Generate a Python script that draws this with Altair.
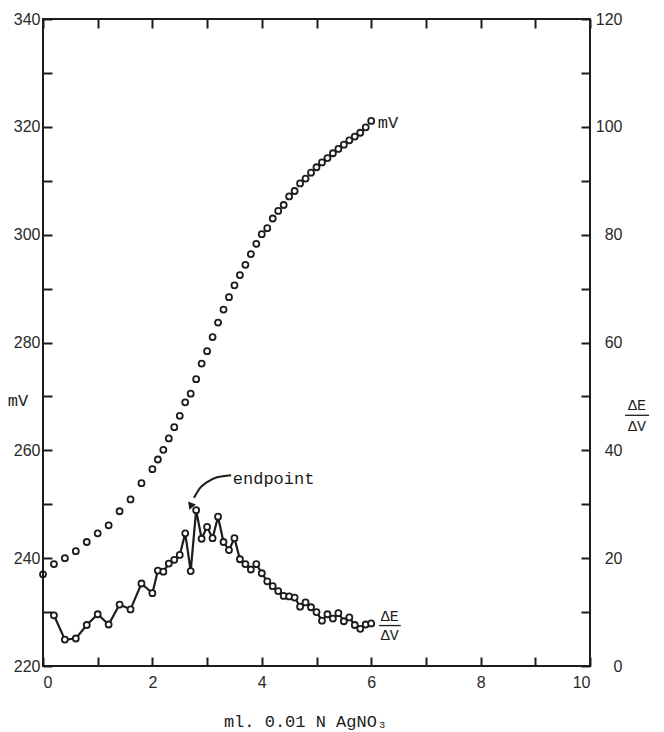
import altair as alt
import pandas as pd

# ---- data ----
vol_mv = [0.0, 0.2, 0.4, 0.6, 0.8, 1.0, 1.2, 1.4, 1.6, 1.8, 2.0,
          2.1, 2.2, 2.3, 2.4, 2.5, 2.6, 2.7, 2.8, 2.9, 3.0,
          3.1, 3.2, 3.3, 3.4, 3.5, 3.6, 3.7, 3.8, 3.9, 4.0,
          4.1, 4.2, 4.3, 4.4, 4.5, 4.6, 4.7, 4.8, 4.9, 5.0,
          5.1, 5.2, 5.3, 5.4, 5.5, 5.6, 5.7, 5.8, 5.9, 6.0]
mv = [237.0, 238.9, 240.0, 241.3, 243.0, 244.6, 246.1, 248.7, 250.9, 253.9, 256.5,
      258.3, 260.1, 262.2, 264.3, 266.4, 268.9, 270.5, 273.2, 276.1, 278.4,
      281.0, 283.7, 286.1, 288.4, 290.6, 292.5, 294.4, 296.4, 298.3, 300.1,
      301.2, 303.0, 304.4, 305.5, 307.1, 308.1, 309.5, 310.4, 311.5, 312.5,
      313.4, 314.2, 315.1, 315.9, 316.7, 317.5, 318.2, 318.9, 319.9, 321.1]

vol_d = [0.2, 0.4, 0.6, 0.8, 1.0, 1.2, 1.4, 1.6, 1.8, 2.0,
         2.1, 2.2, 2.3, 2.4, 2.5, 2.6, 2.7, 2.8, 2.9, 3.0,
         3.1, 3.2, 3.3, 3.4, 3.5, 3.6, 3.7, 3.8, 3.9, 4.0,
         4.1, 4.2, 4.3, 4.4, 4.5, 4.6, 4.7, 4.8, 4.9, 5.0,
         5.1, 5.2, 5.3, 5.4, 5.5, 5.6, 5.7, 5.8, 5.9, 6.0]
dEdV = [9.4, 4.9, 5.1, 7.6, 9.6, 7.7, 11.4, 10.5, 15.3, 13.5,
        17.7, 17.5, 19.0, 19.7, 20.6, 24.6, 17.6, 28.9, 23.6, 25.8,
        23.7, 27.7, 23.0, 21.5, 23.7, 19.8, 18.9, 17.9, 18.9, 17.2,
        15.7, 14.8, 13.9, 13.0, 12.9, 12.7, 11.0, 11.8, 10.9, 10.0,
        8.4, 9.6, 8.8, 9.8, 8.3, 9.0, 7.6, 6.9, 7.7, 7.9]

x_ticks = list(range(0, 11))
mv_ticks = list(range(220, 341, 10))
d_ticks = list(range(0, 121, 10))

# annotations (in ml / dE-dV units)
lbl_text = ["endpoint", "mV"]
lbl_x = [3.47, 6.12]
lbl_y = [34.6, 100.7]

frac_text = ["ΔE", "ΔV", "ΔE", "ΔV"]
frac_x = [6.34, 6.34, 10.86, 10.86]
frac_y = [9.3, 5.7, 48.4, 44.6]

bar_x = [6.14, 10.64]
bar_x2 = [6.54, 11.08]
bar_y = [7.5, 46.5]

arrow_x = [3.44, 3.18, 3.0, 2.87, 2.76]
arrow_y = [35.4, 35.0, 34.1, 33.0, 31.2]
head_x = [2.70]
head_y = [29.6]

INK = "#1c1c1c"
W, H = 547, 647

df_mv = pd.DataFrame({"vol": vol_mv, "mv": mv})
df_d = pd.DataFrame({"vol": vol_d, "d": dEdV})
df_lbl = pd.DataFrame({"t": lbl_text, "x": lbl_x, "y": lbl_y})
df_frac = pd.DataFrame({"t": frac_text, "x": frac_x, "y": frac_y})
df_bar = pd.DataFrame({"x": bar_x, "x2": bar_x2, "y": bar_y})
df_arrow = pd.DataFrame({"x": arrow_x, "y": arrow_y})
df_head = pd.DataFrame({"x": head_x, "y": head_y})

xscale = alt.Scale(domain=[0, 10], nice=False, zero=False)
mvscale = alt.Scale(domain=[220, 340], nice=False, zero=False)
dscale = alt.Scale(domain=[0, 120], nice=False, zero=False)

tick_common = dict(offset=-9, tickSize=9, tickWidth=2, tickColor=INK, domain=False,
                   grid=False, labelFont="Liberation Sans", labelFontSize=16,
                   labelColor="#2a2a2a")

x_bottom = alt.Axis(values=x_ticks, labelExpr="datum.value % 2 == 0 ? datum.label : ''",
                    labelPadding=8, title="ml. 0.01 N AgNO₃", titleFont="Liberation Mono",
                    titleFontSize=17, titleFontWeight="normal", titleColor=INK,
                    titleX=262, titleY=69, titleAlign="center", titleBaseline="alphabetic",
                    **tick_common)
x_top = alt.Axis(orient="top", values=x_ticks, labels=False, title=None,
                 offset=-9, tickSize=9, tickWidth=2, tickColor=INK, domain=False, grid=False)
y_left = alt.Axis(orient="left", values=mv_ticks,
                  labelExpr="datum.value % 20 == 0 ? datum.label : ''",
                  labelPadding=3, title="mV", titleAngle=0, titleFont="Liberation Mono",
                  titleFontSize=17, titleFontWeight="normal", titleColor=INK,
                  titleX=-34.5, titleY=381, titleAlign="center", titleBaseline="middle",
                  **tick_common)
y_right = alt.Axis(orient="right", values=d_ticks,
                   labelExpr="datum.value % 20 == 0 ? datum.label : ''",
                   labelAlign="right", labelPadding=32, title=None, **tick_common)

mv_layer = alt.Chart(df_mv).mark_point(shape="circle", filled=False, size=36,
                                       strokeWidth=1.8, color=INK, opacity=1).encode(
    x=alt.X("vol:Q", scale=xscale, axis=x_bottom),
    y=alt.Y("mv:Q", scale=mvscale, axis=y_left),
)

d_line = alt.Chart(df_d).mark_line(color=INK, strokeWidth=2.2).encode(
    x=alt.X("vol:Q", scale=xscale, axis=x_top),
    y=alt.Y("d:Q", scale=dscale, axis=y_right),
)
d_pts = alt.Chart(df_d).mark_point(shape="circle", filled=True, fill="white", size=36,
                                   stroke=INK, strokeWidth=1.8, opacity=1).encode(
    x=alt.X("vol:Q", scale=xscale, axis=None),
    y=alt.Y("d:Q", scale=dscale, axis=None),
)

lbl_layer = alt.Chart(df_lbl).mark_text(align="left", baseline="middle",
                                        font="Liberation Mono", fontSize=17, color=INK).encode(
    x=alt.X("x:Q", scale=xscale, axis=None),
    y=alt.Y("y:Q", scale=dscale, axis=None),
    text="t:N",
)
frac_layer = alt.Chart(df_frac).mark_text(align="center", baseline="middle",
                                          font="Liberation Mono", fontSize=15, color=INK).encode(
    x=alt.X("x:Q", scale=xscale, axis=None),
    y=alt.Y("y:Q", scale=dscale, axis=None),
    text="t:N",
)
bar_layer = alt.Chart(df_bar).mark_rule(color=INK, strokeWidth=1.3).encode(
    x=alt.X("x:Q", scale=xscale, axis=None),
    x2="x2:Q",
    y=alt.Y("y:Q", scale=dscale, axis=None),
)
arrow_layer = alt.Chart(df_arrow).mark_line(color=INK, strokeWidth=2, interpolate="monotone").encode(
    x=alt.X("x:Q", scale=xscale, axis=None),
    y=alt.Y("y:Q", scale=dscale, axis=None),
)
head_layer = alt.Chart(df_head).mark_point(shape="triangle-down", filled=True, size=70,
                                           color=INK, opacity=1, angle=21).encode(
    x=alt.X("x:Q", scale=xscale, axis=None),
    y=alt.Y("y:Q", scale=dscale, axis=None),
)

chart = alt.layer(
    mv_layer, d_line, d_pts, lbl_layer, frac_layer, bar_layer, arrow_layer, head_layer
).resolve_scale(y="independent").resolve_axis(x="independent", y="independent").properties(
    width=W, height=H,
    autosize=alt.AutoSizeParams(type="none"),
    padding={"left": 43, "top": 19, "right": 74, "bottom": 66},
    background="white",
).configure_view(stroke=INK, strokeWidth=2)

chart.save("out.html", embed_options={"renderer": "svg", "actions": False})
